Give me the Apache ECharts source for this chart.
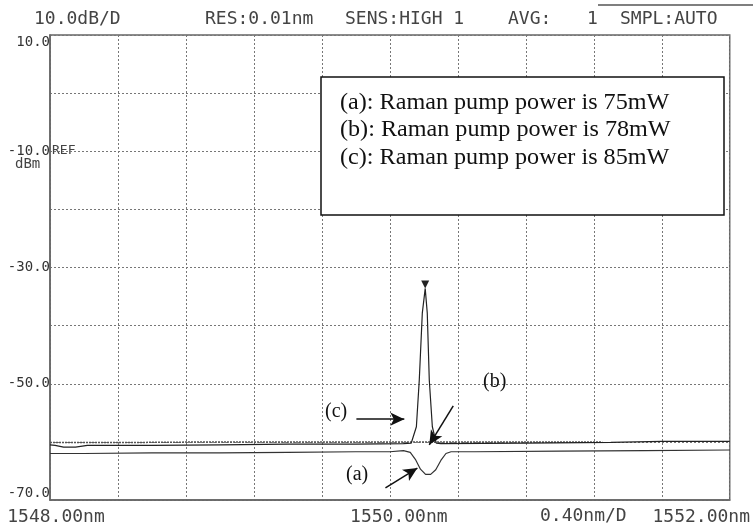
<!DOCTYPE html>
<html>
<head>
<meta charset="utf-8" />
<title>OSA spectrum</title>
<script src="https://cdn.jsdelivr.net/npm/echarts@6/dist/echarts.min.js"></script>
<style>
  html, body { margin: 0; padding: 0; background: #fff; }
</style>
</head>
<body>
<div id="main" style="width: 753px;height:531px;"></div>
<script type="text/javascript">
// trace (a): 75mW pump, dip below the noise floor
var seriesA = [
  [1548.00, -62.0], [1548.20, -62.0], [1548.60, -61.9], [1549.00, -61.9],
  [1549.40, -61.8], [1549.80, -61.7], [1550.00, -61.7], [1550.08, -61.5],
  [1550.12, -61.8], [1550.15, -63.0], [1550.18, -64.7], [1550.21, -65.6],
  [1550.24, -65.6], [1550.27, -64.8], [1550.30, -63.2], [1550.33, -62.0],
  [1550.36, -61.7], [1550.50, -61.7], [1551.00, -61.6], [1551.50, -61.5],
  [1552.00, -61.4]
];
// trace (b): 78mW, flat
var seriesB = [
  [1548.00, -60.1], [1548.50, -60.1], [1549.00, -60.0], [1549.50, -60.0],
  [1550.00, -60.0], [1550.50, -60.0], [1551.00, -60.0], [1551.25, -60.0]
];
// trace (c): 85mW, lasing peak
var seriesC = [
  [1548.00, -60.5], [1548.03, -60.6], [1548.08, -60.9], [1548.15, -60.9],
  [1548.22, -60.6], [1548.60, -60.6], [1549.00, -60.5], [1549.40, -60.4],
  [1549.80, -60.4], [1550.08, -60.3], [1550.126, -60.2], [1550.156, -57.4],
  [1550.173, -49.4], [1550.191, -37.8], [1550.208, -33.6], [1550.220, -37.8],
  [1550.232, -49.4], [1550.250, -57.4], [1550.273, -60.2], [1550.30, -60.3],
  [1550.80, -60.2], [1551.30, -60.1], [1551.60, -59.9], [1552.00, -59.9]
];
var peakPoint = [1550.208, -33.6];

var xLabelValues = [1548, 1550, 1552];
var xLabelTexts = ['1548.00nm', '1550.00nm', '1552.00nm'];
var yLabelValues = [10, -10, -30, -50, -70];

var legendLines = [
  '(a): Raman pump power is 75mW',
  '(b): Raman pump power is 78mW',
  '(c): Raman pump power is 85mW'
];
var headerTexts = [
  ['10.0dB/D', 34], ['RES:0.01nm', 205], ['SENS:HIGH 1', 345],
  ['AVG:', 508], ['1', 587], ['SMPL:AUTO', 620]
];

var osaFont = '"DejaVu Sans Mono", monospace';
var serif = '"Liberation Serif", "Times New Roman", serif';

var graphics = [];
headerTexts.forEach(function (h) {
  graphics.push({
    type: 'text', left: h[1], top: 10,
    style: { text: h[0], font: '18px ' + osaFont, fill: '#444' }
  });
});
graphics.push({
  type: 'line', shape: { x1: 598, y1: 5, x2: 753, y2: 5 },
  style: { stroke: '#555', lineWidth: 1.5 }
});
graphics.push({
  type: 'text', left: 540, top: 507,
  style: { text: '0.40nm/D', font: '18px ' + osaFont, fill: '#444' }
});
graphics.push({
  type: 'text', left: 52, top: 144,
  style: { text: 'REF', font: '13px ' + osaFont, fill: '#444' }
});
graphics.push({
  type: 'text', left: 15, top: 157,
  style: { text: 'dBm', font: '14px ' + osaFont, fill: '#444' }
});
graphics.push({
  type: 'rect', shape: { x: 321, y: 77, width: 403, height: 138 },
  style: { fill: '#fff', stroke: '#111', lineWidth: 1.5 }, z: 50
});
legendLines.forEach(function (t, i) {
  graphics.push({
    type: 'text', x: 340, y: 91 + i * 27.5, scaleX: 1.05, z: 51,
    style: { text: t, font: '23px ' + serif, fill: '#111' }
  });
});
[['(c)', 325, 402], ['(a)', 346, 465], ['(b)', 483, 372]].forEach(function (a) {
  graphics.push({
    type: 'text', left: a[1], top: a[2], z: 51,
    style: { text: a[0], font: '20px ' + serif, fill: '#111' }
  });
});

function arrow(from, to) {
  return [
    { coord: from, symbol: 'none' },
    { coord: to, symbol: 'arrow', symbolSize: [10, 14] }
  ];
}

var myChart = echarts.init(document.getElementById('main'));
var option = {
  backgroundColor: '#fff',
  animation: false,
  grid: {
    left: 50, right: 22, top: 35, bottom: 31,
    show: true, borderColor: '#666', borderWidth: 1.5
  },
  xAxis: {
    type: 'value', min: 1548, max: 1552, interval: 0.4,
    axisLine: { show: true, onZero: false, lineStyle: { color: '#666', width: 1.5 } },
    axisTick: { show: false },
    splitLine: { show: true, lineStyle: { color: '#777', type: [2, 2], width: 1 } },
    axisLabel: {
      show: true, margin: 8, color: '#444', fontFamily: osaFont, fontSize: 18,
      formatter: function (v) {
        for (var i = 0; i < xLabelValues.length; i++) {
          if (Math.abs(v - xLabelValues[i]) < 1e-6) {
            return '{' + ['l', 'm', 'r'][i] + '|' + xLabelTexts[i] + '}';
          }
        }
        return '';
      },
      rich: {
        l: { fontFamily: osaFont, fontSize: 18, color: '#444', padding: [0, 0, 0, 12] },
        m: { fontFamily: osaFont, fontSize: 18, color: '#444', padding: [0, 0, 0, 18] },
        r: { fontFamily: osaFont, fontSize: 18, color: '#444', padding: [0, 57, 0, 0] }
      }
    }
  },
  yAxis: {
    type: 'value', min: -70, max: 10, interval: 10,
    axisLine: { show: true, lineStyle: { color: '#666', width: 1.5 } },
    axisTick: { show: false },
    splitLine: { show: true, lineStyle: { color: '#777', type: [2, 2], width: 1 } },
    axisLabel: {
      show: true, margin: 0, color: '#333', fontFamily: osaFont, fontSize: 14,
      verticalAlignMaxLabel: 'top', verticalAlignMinLabel: 'bottom',
      formatter: function (v) {
        return yLabelValues.indexOf(Math.round(v)) >= 0 ? v.toFixed(1) : '';
      }
    }
  },
  series: [
    {
      name: '(a)', type: 'line', data: seriesA, showSymbol: false,
      lineStyle: { color: '#333', width: 1.2 }, z: 3,
      markLine: {
        silent: true, animation: false, label: { show: false },
        lineStyle: { color: '#111', width: 1.5, type: 'solid' },
        data: [
          arrow([1549.974, -67.9], [1550.162, -64.5]),
          arrow([1549.803, -56.1], [1550.085, -56.1]),
          arrow([1550.373, -53.8], [1550.232, -60.5])
        ]
      }
    },
    {
      name: '(b)', type: 'line', data: seriesB, showSymbol: false,
      lineStyle: { color: '#555', width: 1.5, type: [2, 1] }, z: 2
    },
    {
      name: '(c)', type: 'line', data: seriesC, showSymbol: false,
      lineStyle: { color: '#222', width: 1.2 }, z: 4,
      markPoint: {
        silent: true, symbol: 'triangle', symbolRotate: 180, symbolSize: [8, 8],
        symbolOffset: [0, -4], itemStyle: { color: '#222' }, label: { show: false },
        data: [{ coord: peakPoint }]
      }
    }
  ],
  graphic: graphics
};
myChart.setOption(option);
</script>
</body>
</html>
